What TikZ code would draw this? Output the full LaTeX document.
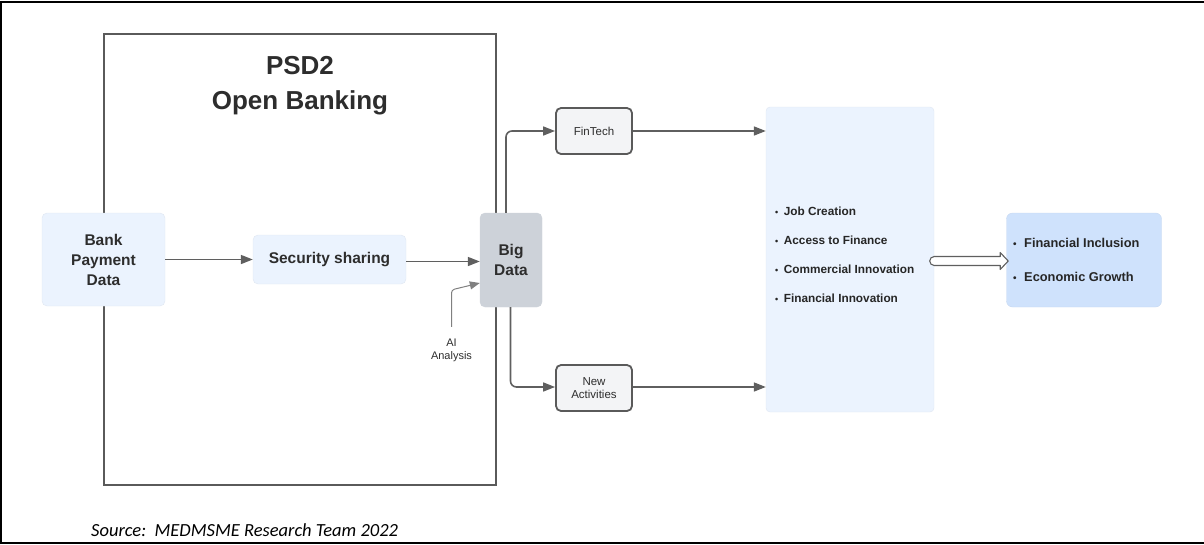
\documentclass[tikz,border=0pt]{standalone}
\usepackage{fontspec}
\setmainfont{Liberation Sans}
\newfontfamily\srcfont{Carlito}
\usetikzlibrary{arrows.meta,positioning}
\definecolor{lblue}{RGB}{235,243,254}
\definecolor{rblue}{RGB}{207,226,252}
\definecolor{bgrey}{RGB}{205,210,217}
\definecolor{fgrey}{RGB}{243,244,246}
\definecolor{lgrey}{RGB}{95,95,95}
\definecolor{txt}{RGB}{45,45,45}
\definecolor{bordc}{RGB}{90,90,90}
\tikzset{
  x=1pt,y=-1pt,
  conn/.style={draw=lgrey,line width=1.6pt,-{Triangle[length=12pt,width=9pt]}},
  softbox/.style={fill=lblue,draw=lblue!90!gray,line width=0.4pt,rounded corners=5pt,text=txt,font=\fontsize{15.5}{20}\selectfont\bfseries,align=center,inner sep=0pt},
  smallbox/.style={fill=fgrey,draw=bordc,line width=1.8pt,rounded corners=5pt,text=txt,font=\fontsize{11.5}{13.5}\selectfont,align=center,minimum width=76pt,minimum height=46pt,inner sep=0pt},
  bul/.style={anchor=west,text=black!85,font=\fontsize{11.8}{13}\selectfont\bfseries,inner sep=0pt},
  rbul/.style={anchor=west,text=black!85,font=\fontsize{12.8}{14}\selectfont\bfseries,inner sep=0pt}
}
\begin{document}
\begin{tikzpicture}
\useasboundingbox (0,0) rectangle (1204,544);
% outer frame
\draw[black,line width=2pt] (1,544) -- (1,2) -- (1204,2);
\draw[black,line width=2pt] (1,542.5) -- (1204,542.5);
% PSD2 box
\draw[bordc,line width=1.8pt] (104,34) rectangle (496,485);
\node[text=txt,font=\fontsize{26}{35}\selectfont\bfseries,align=center] (title) at (300,86) {PSD2\\Open Banking};
% nodes
\node[softbox,minimum width=123pt,minimum height=93pt] (bank) at (103.5,259.5) {Bank\\Payment\\Data};
\node[softbox,minimum width=153pt,minimum height=49pt] (sec) at (329.5,259.5) {Security sharing};
\node[softbox,fill=bgrey,draw=bgrey,minimum width=62pt,minimum height=94pt] (big) at (511,260) {Big\\Data};
\node[smallbox] (fin) at (594,131) {FinTech};
\node[smallbox] (new) at (594,388) {New\\Activities};
\node[fill=lblue,draw=lblue!90!gray,line width=0.4pt,rounded corners=4pt,minimum width=168pt,minimum height=305pt,inner sep=0pt] (out) at (850,259.5) {};
\node[fill=rblue,draw=rblue!90!gray,line width=0.4pt,rounded corners=6pt,minimum width=155pt,minimum height=94pt,inner sep=0pt] (res) at (1084,260) {};
\node[text=txt,font=\fontsize{11}{13}\selectfont,align=center,inner sep=0pt] (ai) at (451.5,350.5) {AI\\Analysis};
% bullets
\node[bul] (b1) at (775,211) {{\fontsize{9}{9}\selectfont\textbullet}\hspace{5.5pt}Job Creation};
\node[bul] (b2) at (775,240) {{\fontsize{9}{9}\selectfont\textbullet}\hspace{5.5pt}Access to Finance};
\node[bul] (b3) at (775,269) {{\fontsize{9}{9}\selectfont\textbullet}\hspace{5.5pt}Commercial Innovation};
\node[bul] (b4) at (775,298) {{\fontsize{9}{9}\selectfont\textbullet}\hspace{5.5pt}Financial Innovation};
\node[rbul] (r1) at (1013,243) {{\fontsize{10}{10}\selectfont\textbullet}\hspace{7.5pt}Financial Inclusion};
\node[rbul] (r2) at (1013,277) {{\fontsize{10}{10}\selectfont\textbullet}\hspace{7.5pt}Economic Growth};
% connectors
\draw[conn] (bank.east) -- (sec.west);
\draw[conn] (sec.east |- 0,261.5) -- (big.west |- 0,261.5);
\draw[conn,draw=gray,line width=1pt,rounded corners=3pt,-{Triangle[length=10pt,width=8pt]}] (ai.north) ++(0,-12) -- ++(0,-37) -- (big.west |- 0,283);
\draw[conn,rounded corners=6pt] (big.north -| 506,0) -- (506,131) -- (fin.west);
\draw[conn,rounded corners=6pt] (big.south -| 510.5,0) -- (510.5,387) -- (new.west |- 0,387);
\draw[conn] (fin.east) -- (fin.east -| out.west);
\draw[conn] (new.east |- 0,387) -- (out.west |- 0,387);
% hollow block arrow
\draw[lgrey,line width=1.1pt,fill=white,line join=round]
  (out.east |- 0,256.5) -- ++(66,0) -- ++(0,-4) -- ++(8,8.5) -- ++(-8,8.5) -- ++(0,-4) -- ++(-66,0)
  arc[start angle=270,end angle=90,radius=4.5pt] -- cycle;
% source
\node[anchor=west,inner sep=0pt,font=\srcfont\itshape\fontsize{18.5}{20}\selectfont,text=black] (src) at (91,530) {Source:\ \ MEDMSME Research Team 2022};
\end{tikzpicture}
\end{document}
